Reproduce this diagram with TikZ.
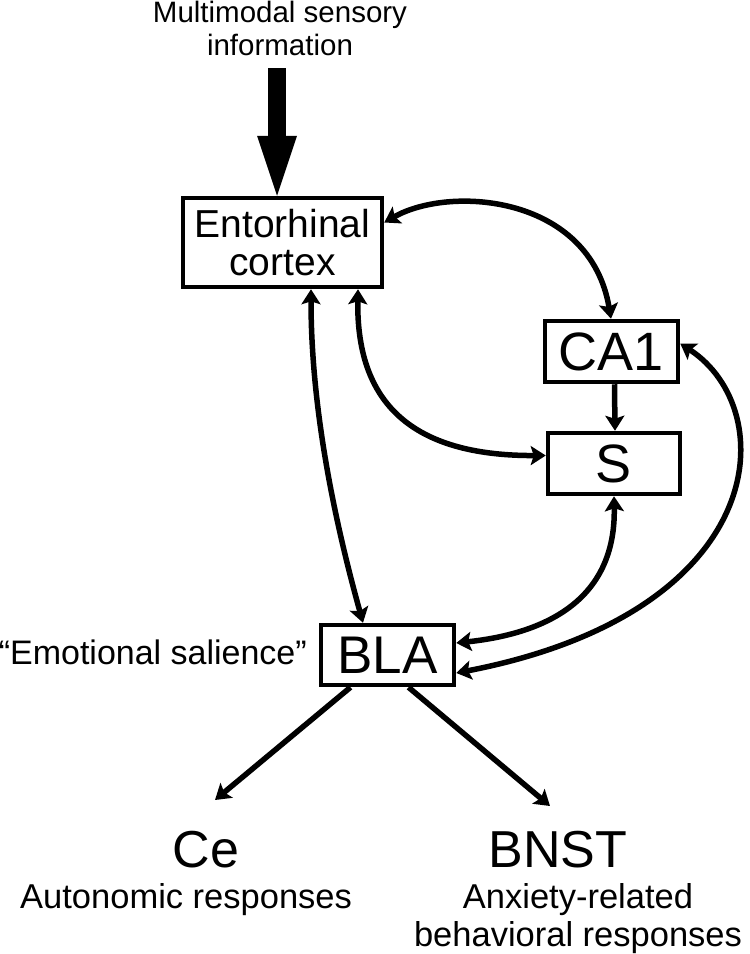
\documentclass[tikz,border=0pt]{standalone}
\usepackage{fontspec}
\setmainfont{Liberation Sans}
\usetikzlibrary{arrows.meta,calc}
\tikzset{
  box/.style={draw, line width=4.5pt, inner sep=0pt, fill=white},
  conn/.style={line width=5.5pt, line cap=butt},
  tip/.tip={Stealth[length=15pt,width=19pt,inset=3pt]},
  lbl/.style={inner sep=0pt, anchor=base},
}
\begin{document}
\begin{tikzpicture}[x=1pt,y=-1pt]
\useasboundingbox (0,0) rectangle (750,954);
% boxes
\node[box, minimum width=199pt, minimum height=89pt, align=center,
      font=\fontsize{39}{38}\selectfont] (ent) at (282.5,242.5) {Entorhinal\\cortex};
\node[box, minimum width=133pt, minimum height=61pt,
      font=\fontsize{54}{54}\selectfont] (ca1) at (611.5,351.5) {CA1};
\node[box, minimum width=132pt, minimum height=61pt,
      font=\fontsize{54}{54}\selectfont] (s) at (614,463.5) {S};
\node[box, minimum width=133pt, minimum height=60pt,
      font=\fontsize{53}{53}\selectfont] (bla) at (387.5,655) {BLA};
% labels
\node[lbl, align=center, font=\fontsize{29.5}{33}\selectfont] (multi) at (280,55) {Multimodal sensory\\information};
\node[lbl, anchor=base east, font=\fontsize{34}{34}\selectfont] (emo) at (307,664) {“Emotional salience”};
\node[lbl, font=\fontsize{52}{52}\selectfont] (ce) at (206,867) {Ce};
\node[lbl, font=\fontsize{52}{52}\selectfont] (bnst) at (558,867) {BNST};
\node[lbl, anchor=base west, font=\fontsize{34.5}{38}\selectfont] (auto) at (20,908) {Autonomic responses};
\node[lbl, align=center, font=\fontsize{34.5}{38}\selectfont] (anx) at (578,946) {Anxiety-related\\behavioral responses};
% big input arrow
\coordinate (inp) at (277,68);
\draw[line width=18pt, -{Triangle[length=60pt,width=40pt,line width=0pt]}] (inp) -- (ent.north -| inp);
% connectors
\draw[conn, tip-tip] ([yshift=20pt]ent.east) .. controls (450,185) and (590,195) .. ([xshift=-0.5pt]ca1.north);
\draw[conn, -tip] ([xshift=3pt]ca1.south) -- ([xshift=1pt]s.north);
\draw[conn, tip-tip] ([xshift=75.5pt]ent.south) .. controls (356,410) and (420,456) .. ([yshift=8pt]s.west);
\draw[conn, tip-tip] ([xshift=28.5pt]ent.south) .. controls (311,420) and (340,540) .. ([xshift=-24.5pt]bla.north);
\draw[conn, tip-tip] (s.south) .. controls (616,590) and (560,632) .. ([yshift=12pt]bla.east);
\draw[conn, tip-tip] ([yshift=8pt]ca1.east) .. controls (782,410) and (772,612) .. ([yshift=-18pt]bla.east);
\coordinate (cein) at (215,800);
\coordinate (bnstin) at (550,806);
\draw[conn, -tip] ([xshift=-37pt]bla.south) -- (cein);
\draw[conn, -tip] ([xshift=21pt]bla.south) -- (bnstin);
\end{tikzpicture}
\end{document}
